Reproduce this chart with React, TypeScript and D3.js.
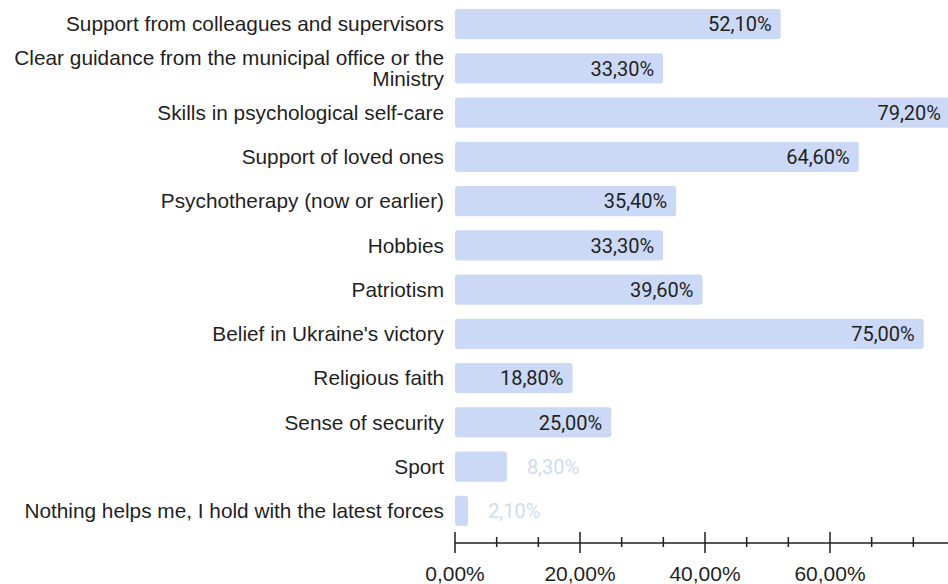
import React, { useEffect, useRef } from 'react';
import * as d3 from 'd3';

const categories = [
  ['Support from colleagues and supervisors'],
  ['Clear guidance from the municipal office or the', 'Ministry'],
  ['Skills in psychological self-care'],
  ['Support of loved ones'],
  ['Psychotherapy (now or earlier)'],
  ['Hobbies'],
  ['Patriotism'],
  ["Belief in Ukraine's victory"],
  ['Religious faith'],
  ['Sense of security'],
  ['Sport'],
  ['Nothing helps me, I hold with the latest forces'],
];
const values = [52.1, 33.3, 79.2, 64.6, 35.4, 33.3, 39.6, 75.0, 18.8, 25.0, 8.3, 2.1];
const majorTicks = [0, 20, 40, 60];
const minorTicks = [20 / 3, 40 / 3, 80 / 3, 100 / 3, 140 / 3, 160 / 3, 200 / 3, 220 / 3];

const fmt = (v: number) => v.toFixed(2).replace('.', ',') + '%';

const App: React.FC = () => {
  const svgRef = useRef<SVGSVGElement>(null);

  useEffect(() => {
    if (!svgRef.current) return;
    const svg = d3.select(svgRef.current);
    svg.selectAll('*').remove();

    const x = d3.scaleLinear().domain([0, 80]).range([455, 955]);
    const y = d3
      .scaleBand<number>()
      .domain(d3.range(values.length))
      .range([2, 533])
      .paddingInner(0.32)
      .paddingOuter(0.16);

    const barColor = '#cbd9f6';

    // bars
    svg
      .append('g')
      .selectAll('rect')
      .data(values)
      .join('rect')
      .attr('x', x(0))
      .attr('y', (_, i) => y(i)!)
      .attr('width', d => x(d) - x(0))
      .attr('height', y.bandwidth())
      .attr('rx', 3)
      .attr('fill', barColor);

    // value labels
    svg
      .append('g')
      .selectAll('text')
      .data(values)
      .join('text')
      .attr('x', d => (d > 15 ? x(d) - 9 : x(d) + 20))
      .attr('y', (_, i) => y(i)! + y.bandwidth() / 2)
      .attr('dy', '0.36em')
      .attr('text-anchor', d => (d > 15 ? 'end' : 'start'))
      .attr('font-family', 'Roboto, sans-serif')
      .attr('font-size', 20)
      .attr('fill', d => (d > 15 ? '#1f1f1f' : '#cfdbf5'))
      .text(d => fmt(d));

    // category labels
    const lab = svg
      .append('g')
      .selectAll('text')
      .data(categories)
      .join('text')
      .attr('text-anchor', 'end')
      .attr('font-family', '"Liberation Sans", Arial, sans-serif')
      .attr('font-size', 20.8)
      .attr('fill', '#1f1f1f')
      .attr('y', (_, i) => y(i)! + y.bandwidth() / 2);
    lab
      .selectAll('tspan')
      .data(d => d.map((t, j) => ({ t, j, n: d.length })))
      .join('tspan')
      .attr('x', 444)
      .attr('dy', d => (d.j === 0 ? 7.3 - (d.n - 1) * 11 : 21))
      .text(d => d.t);

    // axis
    const axY = 543;
    const ax = svg.append('g').attr('stroke', '#1f1f1f');
    ax.append('line').attr('x1', x(0)).attr('x2', 948).attr('y1', axY).attr('y2', axY).attr('stroke-width', 1.5);
    ax.selectAll('line.major')
      .data(majorTicks)
      .join('line')
      .attr('class', 'major')
      .attr('x1', d => x(d))
      .attr('x2', d => x(d))
      .attr('y1', axY - 11)
      .attr('y2', axY + 10)
      .attr('stroke-width', 1.5);
    ax.selectAll('line.minor')
      .data(minorTicks)
      .join('line')
      .attr('class', 'minor')
      .attr('x1', d => x(d))
      .attr('x2', d => x(d))
      .attr('y1', axY - 6)
      .attr('y2', axY + 4)
      .attr('stroke-width', 1.5);

    svg
      .append('g')
      .selectAll('text')
      .data(majorTicks)
      .join('text')
      .attr('x', d => x(d))
      .attr('y', 581)
      .attr('text-anchor', 'middle')
      .attr('font-family', '"Liberation Sans", Arial, sans-serif')
      .attr('font-size', 21)
      .attr('fill', '#1f1f1f')
      .text(d => fmt(d));
  }, []);

  return (
    <svg
      ref={svgRef}
      width={948}
      height={584}
      style={{ position: 'absolute', left: 0, top: 0, background: '#fff' }}
    />
  );
};

export default App;
